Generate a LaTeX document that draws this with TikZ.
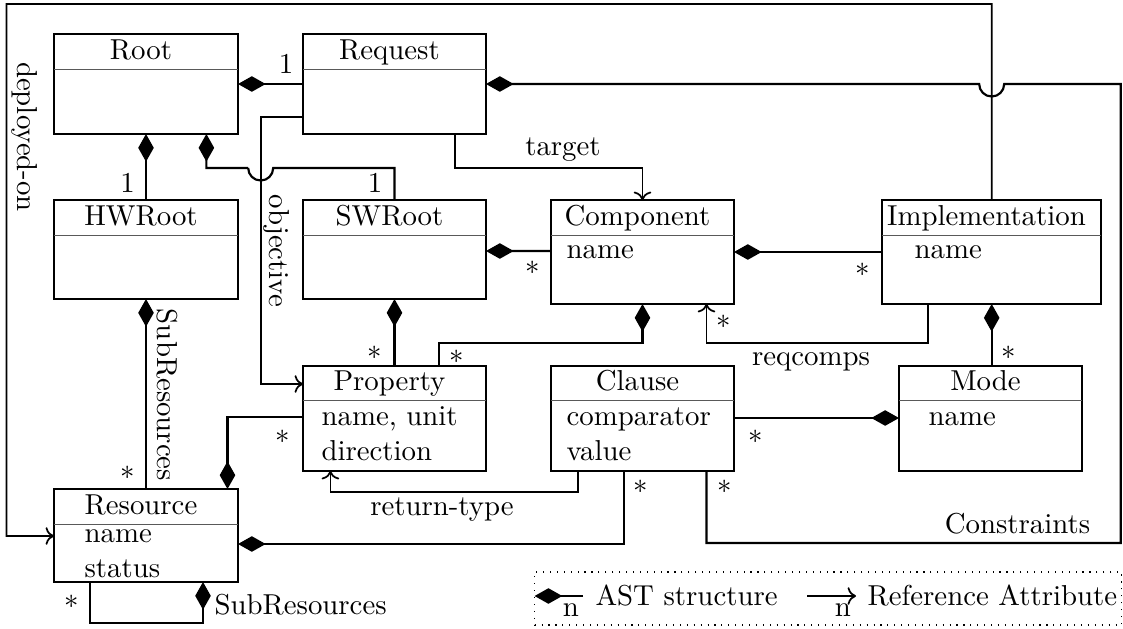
\documentclass[tikz,border=0pt]{standalone}
\usetikzlibrary{arrows.meta,fit,calc}
\tikzset{
  umlbox/.style={draw, line width=1pt, inner sep=0pt, outer sep=0pt},
  divider/.style={line width=0.35pt, draw=black!65},
  ttl/.style={inner sep=0pt, anchor=base},
  attr/.style={inner sep=0pt, anchor=base west},
  ast/.style={line width=0.75pt, -{Diamond[length=9.6pt,width=5.4pt]}},
  refl/.style={line width=0.6pt, ->},
  mult/.style={inner sep=0pt, anchor=center},
  lbl/.style={inner sep=0pt, anchor=base},
  rlbl/.style={inner sep=0pt, anchor=center, rotate=-90},
  legendframe/.style={draw, dotted, line width=0.4pt, inner sep=0pt, outer sep=0pt},
}
\newcommand\mkbox[7]{%
  \coordinate (#1-nw) at (#2,#3);
  \coordinate (#1-se) at (#4,#5);
  \node[umlbox, fit=(#1-nw)(#1-se)] (#1) {};
  \draw[divider] (#2,#6) -- (#4,#6);
  \node[ttl] (#1-title) at ({(#2+#4)/2-5},{#6-9.5}) {#7};
}
\begin{document}
\begin{tikzpicture}[x=0.347pt,y=-0.347pt]
\useasboundingbox (0,0) rectangle (1123,629);
% boxes
\mkbox{Root}{54}{34}{238}{134}{69}{Root}
\mkbox{Request}{303}{34}{486}{134}{69}{Request}
\mkbox{HWRoot}{54}{200}{238}{299}{235}{HWRoot}
\mkbox{SWRoot}{303}{200}{486}{299}{235}{SWRoot}
\mkbox{Component}{551}{200}{734}{304}{235}{Component}
\mkbox{Implementation}{882}{200}{1101}{304}{235}{Implementation}
\mkbox{Property}{303}{366}{486}{471}{400}{Property}
\mkbox{Clause}{551}{366}{734}{471}{400}{Clause}
\mkbox{Mode}{899}{366}{1082}{471}{400}{Mode}
\mkbox{Resource}{54}{489}{238}{582}{524}{Resource}
% attributes
\node[attr] (Component-a1) at (566,258) {name};
\node[attr] (Implementation-a1) at (914,258) {name};
\node[attr] (Property-a1) at (321,425) {name, unit};
\node[attr] (Property-a2) at (321,460) {direction};
\node[attr] (Clause-a1) at (566,425) {comparator};
\node[attr] (Clause-a2) at (566,460) {value};
\node[attr] (Mode-a1) at (928,425) {name};
\node[attr] (Resource-a1) at (84,542) {name};
\node[attr] (Resource-a2) at (84,577) {status};

% AST connectors
\draw[ast] (Request.west) -- (Root.east);
\node[mult] (m-rr) at (286,64) {1};
\draw[ast] (HWRoot.north) -- (Root.south);
\node[mult] (m-hw) at (127.5,183) {1};
\coordinate (jA) at (273.2,168);
\coordinate (jB) at (248.2,168);
\draw[ast] (SWRoot.north) |- (jA) arc[start angle=0,end angle=-180,radius=4.34pt] -- (jB) -| ($(Root.south west)+(152.4,0)$);
\node[mult] (m-sw) at (375,183) {1};
\draw[ast] ($(Component.north west)+(0,51)$) -- ($(SWRoot.north east)+(0,51)$);
\node[mult] (m-cs) at (533,268) {$*$};
\draw[ast] ($(Implementation.north west)+(0,52)$) -- ($(Component.north east)+(0,52)$);
\node[mult] (m-ic) at (862.7,270) {$*$};
\draw[ast] ($(Mode.north west)+(92.7,0)$) -- ($(Implementation.south west)+(109.7,0)$);
\node[mult] (m-mi) at (1009,353) {$*$};
\draw[ast] ($(Property.north west)+(136.3,0)$) -- ++(0,-23) -| (Component.south);
\node[mult] (m-pc) at (457,357) {$*$};
\draw[ast] (Property.north) -- (SWRoot.south);
\node[mult] (m-ps) at (375,353) {$*$};
\draw[ast] (Resource.north) -- (HWRoot.south);
\node[mult] (m-rh) at (127.5,473) {$*$};
\node[rlbl] (l-sub1) at (167,395) {SubResources};
\draw[ast] ($(Property.north west)+(0,51)$) -| ($(Resource.north west)+(173.5,0)$);
\node[mult] (m-pr) at (283,437) {$*$};
\draw[ast] ($(Clause.south west)+(72.6,0)$) |- ($(Resource.north east)+(0,55)$);
\node[mult] (m-cr) at (641,487) {$*$};
\draw[ast] ($(Clause.north east)+(0,52)$) -- ($(Mode.north west)+(0,52)$);
\node[mult] (m-cm) at (755.6,437) {$*$};
\draw[ast] ($(Resource.south west)+(36,0)$) -- ++(0,41) -| ($(Resource.south west)+(149,0)$);
\node[mult] (m-self) at (71.4,602) {$*$};
\node[attr] (l-sub2) at (214,614) {SubResources};
\coordinate (jC) at (1004.2,84);
\draw[ast] ($(Clause.south west)+(155.5,0)$) -- ++(0,72) -| ($(Implementation.north east)+(19.7,-116)$) -- (jC) arc[start angle=0,end angle=-180,radius=4.34pt] -- (Request.east);
\node[mult] (m-con) at (724.8,487) {$*$};
\node[lbl] (l-con) at (1017.5,533) {Constraints};

% reference connectors
\draw[refl] ($(Request.south west)+(0,-17)$) -| ($(Property.north west)+(-42.3,18)$) -- ($(Property.north west)+(0,18)$);
\node[rlbl] (l-obj) at (277,251) {objective};
\draw[refl] ($(Request.south west)+(152,0)$) -- ++(0,34) -| (Component.north);
\node[lbl] (l-tgt) at (563,155) {target};
\coordinate (dpl) at (6.4,536);
\draw[refl] ($(Implementation.north west)+(109.7,0)$) -- ++(0,-196) -| (dpl) -- ($(Resource.north west)+(0,47)$);
\node[rlbl] (l-dep) at (25,137) {deployed-on};
\draw[refl] ($(Implementation.south west)+(45.7,0)$) -- ++(0,39) -| ($(Component.south west)+(155.5,0)$);
\node[mult] (m-req) at (724,322) {$*$};
\node[lbl] (l-req) at (811,365) {reqcomps};
\draw[refl] ($(Clause.south west)+(27.3,0)$) -- ++(0,21) -| ($(Property.south west)+(27.4,0)$);
\node[lbl] (l-ret) at (442,515) {return-type};

% legend
\coordinate (lg-nw) at (534.6,572);
\coordinate (lg-se) at (1121.5,625);
\node[legendframe, fit=(lg-nw)(lg-se)] (legend) {};
\coordinate (lgA) at (583,596);
\draw[ast] (lgA) -- (legend.west |- lgA);
\node[lbl] (lg-n1) at (571,616) {n};
\node[attr] (lg-t1) at (595,605) {AST structure};
\coordinate (lgB1) at (807,596);
\coordinate (lgB2) at (856,596);
\draw[refl] (lgB1) -- (lgB2);
\node[lbl] (lg-n2) at (843,616) {n};
\node[attr] (lg-t2) at (867,605) {Reference Attribute};
\end{tikzpicture}
\end{document}
